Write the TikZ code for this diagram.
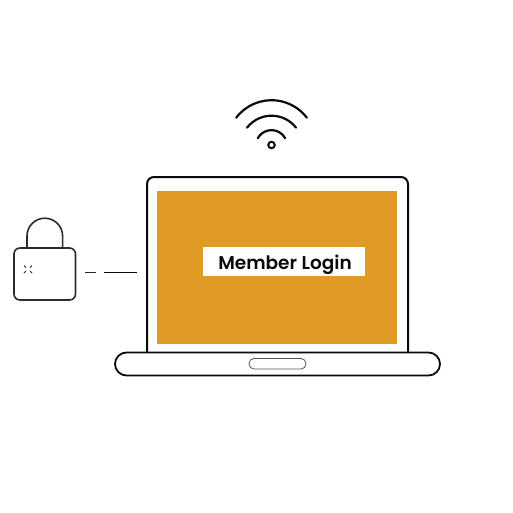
\documentclass[tikz,border=0pt]{standalone}
\usepackage{fontspec}
\setmainfont[BoldFont={Poppins SemiBold}]{Poppins}
\definecolor{ochre}{HTML}{E09B26}
\definecolor{ink}{HTML}{0A0A0A}
\definecolor{lockink}{HTML}{2B2B2B}
\tikzset{
  line/.style={draw=ink,line width=2pt},
  thin line/.style={draw=lockink,line width=1.6pt},
  wave/.style={draw=ink,line width=2.2pt,line cap=round},
  spark/.style={draw=lockink,line width=0.9pt},
}
\begin{document}
\begin{tikzpicture}[x=1pt,y=-1pt]
\useasboundingbox[fill=white] (0,0) rectangle (513,513);
% base of laptop
\draw[line,line width=1.8pt] (126.5,352.5) -- (428.5,352.5) arc[start angle=-90,end angle=90,radius=11.5] -- (126.5,375.5) arc[start angle=90,end angle=270,radius=11.5] -- cycle;
\draw[draw=ink!70,line width=0.8pt,rounded corners=5pt] (249,358.5) rectangle (306,369);
% lid
\draw[line,rounded corners=7pt] (147,352.5) -- (147,177) -- (408,177) -- (408,352.5);
\fill[ochre] (157.2,191) rectangle (397,344);
\node[fill=white,minimum width=162pt,minimum height=28.5pt,inner sep=0pt] (login) at (284,261.3) {};
\node[font=\fontsize{18.5}{20}\selectfont\bfseries,text=ink,inner sep=0pt] (label) at (285,265) {Member Login};
% wifi
\draw[wave] (271.5,145.7) ++(-13.7,-7.5) arc[start angle=-150.8,end angle=-29.2,radius=15.7];
\draw[wave] (271.5,146.7) ++(-24.5,-19) arc[start angle=-142.2,end angle=-37.8,radius=31];
\draw[wave] (271.5,145) ++(-35.3,-27.3) arc[start angle=-142.7,end angle=-37.3,radius=44.4];
\node[circle,draw=ink,line width=2pt,minimum size=6.5pt,inner sep=0pt] (dot) at (271.5,145) {};
% lock
\draw[thin line] (27,248) -- (27,236) arc[start angle=180,end angle=360,radius=17.8] -- (62.6,248);
\draw[thin line,rounded corners=6pt] (14,248) rectangle (75.5,300);
\draw[spark] (24,265.5) -- (26,267.5);
\draw[spark] (32,265.5) -- (30,267.5);
\draw[spark] (24,273) -- (26,271);
\draw[spark] (32,273) -- (30,271);
% link
\coordinate (d1) at (85,272);
\coordinate (d2) at (96,272);
\coordinate (d3) at (104,272);
\coordinate (d4) at (137,272);
\draw[draw=lockink,line width=1pt] (d1) -- (d2);
\draw[draw=ink,line width=1pt] (d3) -- (d4);
\end{tikzpicture}
\end{document}
